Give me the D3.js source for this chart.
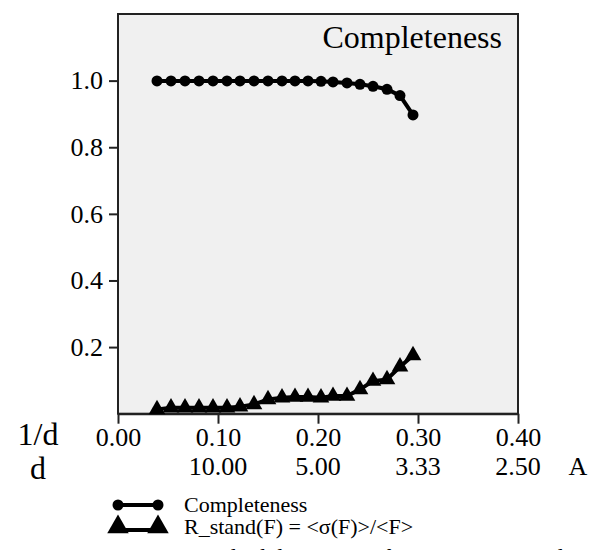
<!DOCTYPE html>
<html>
<head>
<meta charset="utf-8">
<script src="https://cdn.jsdelivr.net/npm/d3@7"></script>
<style>
  body { margin: 0; background: #fff; }
  svg text { font-family: "Liberation Serif", "Times New Roman", "DejaVu Serif", serif !important; fill: #000; }
</style>
</head>
<body>
<div id="chart"></div>
<script>
// Data (1/d bins)
const invD = [0.039, 0.053, 0.067, 0.081, 0.095, 0.109, 0.122, 0.136, 0.150, 0.164,
              0.177, 0.190, 0.203, 0.215, 0.229, 0.242, 0.255, 0.269, 0.282, 0.295];
const completeness = [0.999, 0.999, 0.999, 0.999, 0.999, 0.999, 0.999, 0.999, 0.999, 0.999,
                      0.999, 0.999, 0.998, 0.996, 0.993, 0.989, 0.983, 0.974, 0.955, 0.897];
const rStand = [0.013, 0.018, 0.018, 0.018, 0.018, 0.018, 0.021, 0.028, 0.043, 0.048,
                0.050, 0.050, 0.048, 0.053, 0.053, 0.073, 0.098, 0.103, 0.141, 0.175];
const xTicks = [0.00, 0.10, 0.20, 0.30, 0.40];
const dLabels = ["", "10.00", "5.00", "3.33", "2.50"];
const yTicks = [0.2, 0.4, 0.6, 0.8, 1.0];
const seriesNames = ["Completeness", "R_stand(F) = <\u03c3(F)>/<F>"];

const serif = '"Liberation Serif", "Times New Roman", serif';
const width = 589, height = 550;
const svg = d3.select("#chart").append("svg")
  .attr("width", width)
  .attr("height", height)
  .attr("font-family", serif);

const x = d3.scaleLinear().domain([0, 0.4]).range([118, 518]);
const y = d3.scaleLinear().domain([0, 1.2]).range([413.7, 14]);

// plot box
svg.append("rect")
  .attr("x", x(0)).attr("y", y(1.2))
  .attr("width", x(0.4) - x(0)).attr("height", y(0) - y(1.2))
  .attr("fill", "#f0f0f0")
  .attr("stroke", "#222")
  .attr("stroke-width", 2);

// y axis
const yAxis = svg.append("g")
  .attr("transform", `translate(${x(0)},0)`)
  .call(d3.axisLeft(y).tickValues(yTicks).tickFormat(d3.format(".1f")).tickSize(9).tickPadding(6));
yAxis.attr("font-family", serif);
yAxis.select(".domain").remove();
yAxis.selectAll("line").attr("stroke", "#222").attr("stroke-width", 2);
yAxis.selectAll("text").attr("font-size", 26).attr("font-family", serif);

// x axis
const xAxis = svg.append("g")
  .attr("transform", `translate(0,${y(0)})`)
  .call(d3.axisBottom(x).tickValues(xTicks).tickFormat(d3.format(".2f")).tickSizeInner(10).tickSizeOuter(0).tickPadding(4));
xAxis.attr("font-family", serif);
xAxis.select(".domain").attr("stroke", "#222").attr("stroke-width", 2);
xAxis.selectAll("line").attr("stroke", "#222").attr("stroke-width", 2);
xAxis.selectAll("text").attr("font-size", 26).attr("font-family", serif);

// second row: d in Angstrom
svg.selectAll(".dlab")
  .data(xTicks)
  .enter().append("text")
  .attr("class", "dlab")
  .attr("x", d => x(d))
  .attr("y", 475)
  .attr("text-anchor", "middle")
  .attr("font-size", 26)
  .text((d, i) => dLabels[i]);
svg.append("text").attr("x", 578).attr("y", 475).attr("text-anchor", "middle")
  .attr("font-size", 26).text("A");

svg.append("text").attr("x", 38).attr("y", 445).attr("text-anchor", "middle")
  .attr("font-size", 32).text("1/d");
svg.append("text").attr("x", 38).attr("y", 479).attr("text-anchor", "middle")
  .attr("font-size", 32).text("d");

// title inside box
svg.append("text").attr("x", 502).attr("y", 48).attr("text-anchor", "end")
  .attr("font-size", 32).text("Completeness");

// series
const line = d3.line().x(d => x(d[0])).y(d => y(d[1]));
const compPts = invD.map((v, i) => [v, completeness[i]]);
const rPts = invD.map((v, i) => [v, rStand[i]]);

svg.append("path").datum(compPts)
  .attr("d", line).attr("fill", "none").attr("stroke", "#000").attr("stroke-width", 4);
svg.selectAll(".cdot").data(compPts).enter().append("circle")
  .attr("class", "cdot")
  .attr("cx", d => x(d[0])).attr("cy", d => y(d[1])).attr("r", 5.5).attr("fill", "#000");

const tri = d3.symbol().type(d3.symbolTriangle).size(120);
svg.append("path").datum(rPts)
  .attr("d", line).attr("fill", "none").attr("stroke", "#000").attr("stroke-width", 4);
svg.selectAll(".rtri").data(rPts).enter().append("path")
  .attr("class", "rtri")
  .attr("transform", d => `translate(${x(d[0])},${y(d[1])})`)
  .attr("d", tri).attr("fill", "#000");

// legend
const legend = svg.append("g");
const legY = [505, 527];
legend.append("line").attr("x1", 118).attr("x2", 158).attr("y1", legY[0]).attr("y2", legY[0])
  .attr("stroke", "#000").attr("stroke-width", 4);
[118, 158].forEach(px => legend.append("circle").attr("cx", px).attr("cy", legY[0]).attr("r", 5.5).attr("fill", "#000"));
legend.append("line").attr("x1", 118).attr("x2", 158).attr("y1", legY[1] + 3).attr("y2", legY[1] + 3)
  .attr("stroke", "#000").attr("stroke-width", 4);
[118, 158].forEach(px => legend.append("path").attr("transform", `translate(${px},${legY[1]})`)
  .attr("d", d3.symbol().type(d3.symbolTriangle).size(200)).attr("fill", "#000"));
legend.selectAll(".ltxt").data(seriesNames).enter().append("text")
  .attr("class", "ltxt")
  .attr("x", 184).attr("y", (d, i) => legY[i] + 7)
  .attr("font-size", 22)
  .text(d => d);

// cut-off caption line at the bottom
svg.append("text").attr("x", 184).attr("y", 565).attr("font-size", 23)
  .text("Standard deviations of intensities in resolution shells");
</script>
</body>
</html>
